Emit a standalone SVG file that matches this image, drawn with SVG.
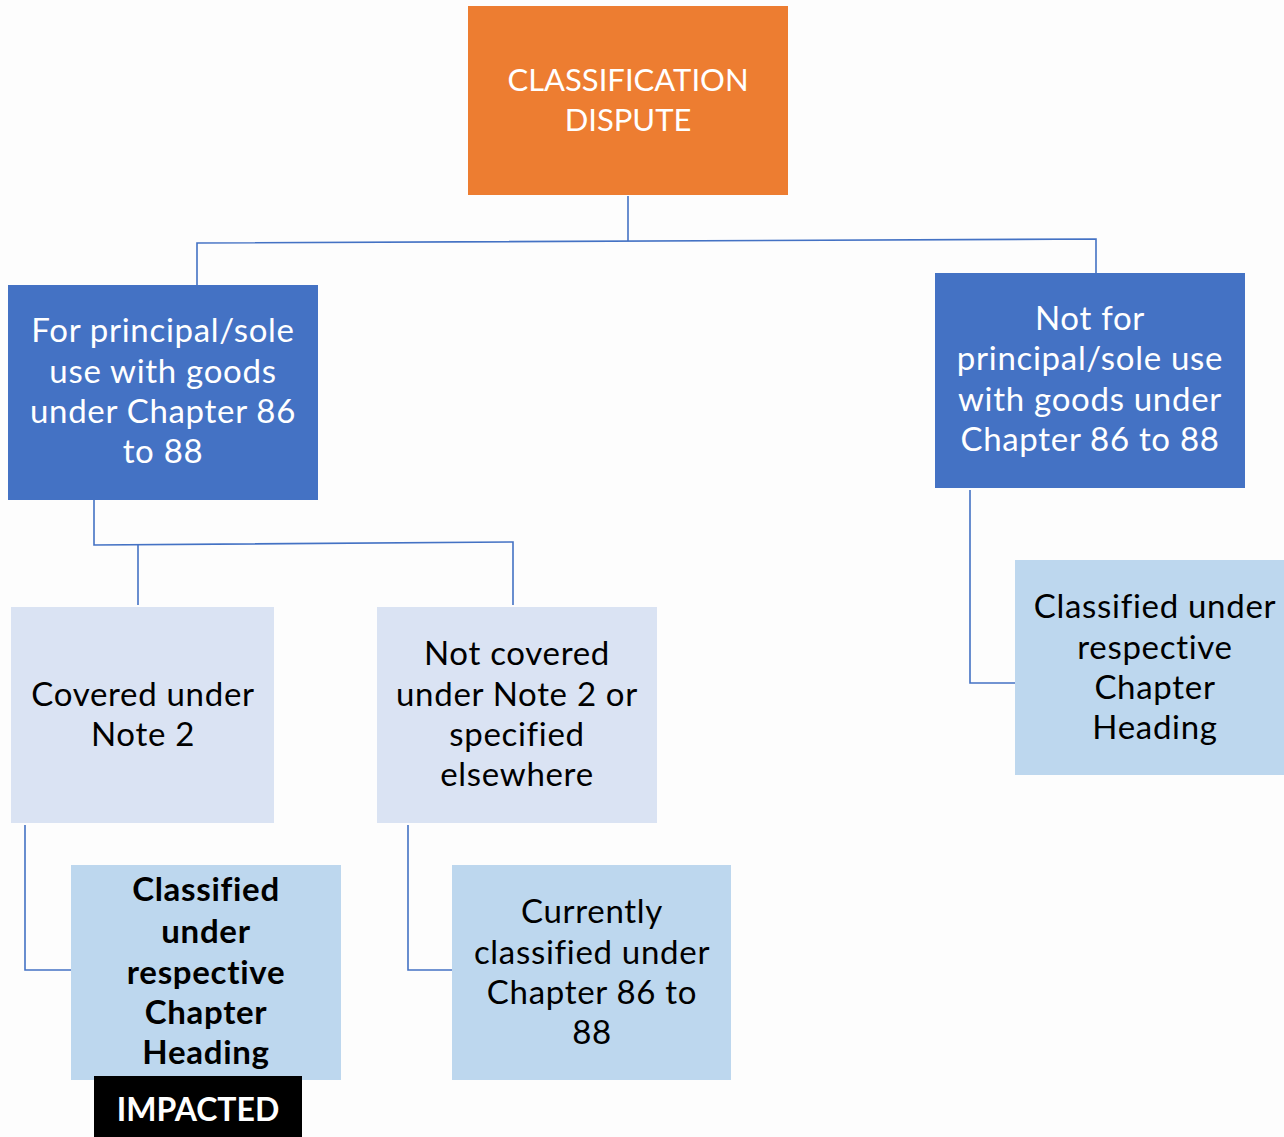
<svg xmlns="http://www.w3.org/2000/svg" width="1284" height="1137" viewBox="0 0 1284 1137">
<style>
text{font-family:Lato,"Open Sans","Liberation Sans",sans-serif;font-size:33px;letter-spacing:0.7px;font-variant-ligatures:none;text-anchor:middle}
.w{fill:#ffffff}
.k{fill:#000000}
.b{font-weight:bold}
.cap{font-size:31px;letter-spacing:0}
.imp{font-size:32px;letter-spacing:0}
.c{fill:none;stroke:#4472C4;stroke-width:1.6}
</style>
<rect width="1284" height="1137" fill="#fdfdfd"/>
<g id="connectors">
<polyline class="c" points="628,196 628,241"/>
<polyline class="c" points="197,285 197,243 1096,239 1096,273"/>
<polyline class="c" points="94,500 94,545 513,542 513,605"/>
<polyline class="c" points="138,545 138,605"/>
<polyline class="c" points="970,490 970,683 1015,683"/>
<polyline class="c" points="25,825 25,970 71,970"/>
<polyline class="c" points="408,825 408,970 452,970"/>
</g>
<g id="dispute">
<rect x="468" y="6" width="320" height="189" fill="#ED7D31"/>
<text class="w cap" x="628" y="91">CLASSIFICATION</text>
<text class="w cap" x="628" y="131">DISPUTE</text>
</g>
<g id="principal">
<rect x="8" y="285" width="310" height="215" fill="#4472C4"/>
<text class="w" x="163" y="342">For principal/sole</text>
<text class="w" x="163" y="383">use with goods</text>
<text class="w" x="163" y="423">under Chapter 86</text>
<text class="w" x="163" y="463">to 88</text>
</g>
<g id="notprincipal">
<rect x="935" y="273" width="310" height="215" fill="#4472C4"/>
<text class="w" x="1090" y="330">Not for</text>
<text class="w" x="1090" y="370">principal/sole use</text>
<text class="w" x="1090" y="411">with goods under</text>
<text class="w" x="1090" y="451">Chapter 86 to 88</text>
</g>
<g id="covered">
<rect x="11" y="607" width="263" height="216" fill="#DAE3F3"/>
<text class="k" x="143" y="706">Covered under</text>
<text class="k" x="143" y="746">Note 2</text>
</g>
<g id="notcovered">
<rect x="377" y="607" width="280" height="216" fill="#DAE3F3"/>
<text class="k" x="517" y="665">Not covered</text>
<text class="k" x="517" y="706">under Note 2 or</text>
<text class="k" x="517" y="746">specified</text>
<text class="k" x="517" y="786">elsewhere</text>
</g>
<g id="classifiedbold">
<rect x="71" y="865" width="270" height="215" fill="#BDD7EE"/>
<text class="k b" x="206" y="901">Classified</text>
<text class="k b" x="206" y="943">under</text>
<text class="k b" x="206" y="984">respective</text>
<text class="k b" x="206" y="1024">Chapter</text>
<text class="k b" x="206" y="1064">Heading</text>
</g>
<g id="impacted">
<rect x="94" y="1076" width="208" height="61" fill="#000000"/>
<text class="w b imp" x="198" y="1121">IMPACTED</text>
</g>
<g id="currently">
<rect x="452" y="865" width="279" height="215" fill="#BDD7EE"/>
<text class="k" x="592" y="923">Currently</text>
<text class="k" x="592" y="964">classified under</text>
<text class="k" x="592" y="1004">Chapter 86 to</text>
<text class="k" x="592" y="1044">88</text>
</g>
<g id="classifiedright">
<rect x="1015" y="560" width="269" height="215" fill="#BDD7EE"/>
<text class="k" x="1155" y="618">Classified under</text>
<text class="k" x="1155" y="659">respective</text>
<text class="k" x="1155" y="699">Chapter</text>
<text class="k" x="1155" y="739">Heading</text>
</g>
</svg>
